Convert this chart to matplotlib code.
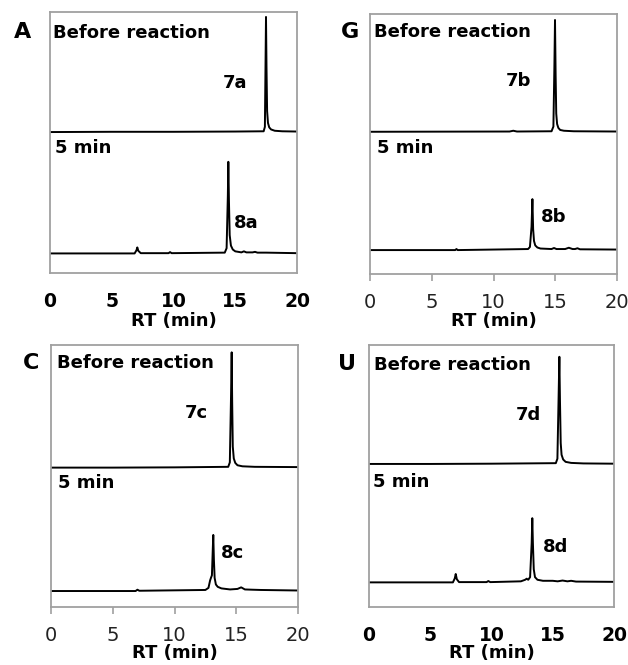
import matplotlib
matplotlib.use('Agg')
import matplotlib.pyplot as plt

# retention time ticks shared by all panels
rt_ticks = [0, 5, 10, 15, 20]

# panel A (7a -> 8a)
a_before_rt = [0, 5, 10, 15, 17.30, 17.40, 17.46, 17.49, 17.53, 17.58, 17.65, 17.75, 17.90, 18.20, 18.80, 20]
a_before_sig = [0, 0.001, 0.001, 0.002, 0.003, 0.02, 0.30, 0.441, 0.25, 0.08, 0.035, 0.018, 0.010, 0.005, 0.003, 0.002]
a_after_rt = [0, 6.85, 7.0, 7.07, 7.15, 7.35, 9.6, 9.72, 9.85, 14.15, 14.30, 14.40, 14.44, 14.49, 14.55, 14.65,
              14.80, 15.0, 15.5, 15.7, 15.9, 16.4, 16.6, 16.8, 17.5, 20]
a_after_sig = [0, 0.000, 0.012, 0.023, 0.010, 0.001, 0.001, 0.005, 0.001, 0.003, 0.02, 0.22, 0.351, 0.2, 0.07, 0.03,
               0.015, 0.008, 0.004, 0.008, 0.004, 0.004, 0.006, 0.003, 0.003, 0.001]

# panel G (7b -> 8b)
g_before_rt = [0, 11.3, 11.6, 11.9, 14.70, 14.85, 14.93, 14.98, 15.03, 15.08, 15.15, 15.25, 15.40, 15.70, 16.5, 20]
g_before_sig = [0, 0.001, 0.004, 0.001, 0.002, 0.02, 0.25, 0.430, 0.22, 0.07, 0.03, 0.015, 0.007, 0.004, 0.002, 0.001]
g_after_rt = [0, 6.9, 7.0, 7.1, 12.80, 12.95, 13.08, 13.15, 13.21, 13.28, 13.38, 13.55, 13.8, 14.7, 14.9, 15.1,
              15.8, 16.1, 16.4, 16.6, 16.8, 17.0, 20]
g_after_sig = [0, 0, 0.004, 0, 0.004, 0.012, 0.09, 0.196, 0.08, 0.035, 0.018, 0.010, 0.006, 0.004, 0.008, 0.004,
               0.004, 0.009, 0.004, 0.004, 0.007, 0.003, 0.002]

# panel C (7c -> 8c)
c_before_rt = [0, 5, 10, 14.35, 14.48, 14.58, 14.63, 14.67, 14.72, 14.80, 14.92, 15.10, 15.5, 16.5, 20]
c_before_sig = [0, 0.0, 0.001, 0.003, 0.02, 0.28, 0.440, 0.25, 0.08, 0.035, 0.018, 0.009, 0.005, 0.003, 0.002]
c_after_rt = [0, 6.85, 7.0, 7.15, 12.5, 12.75, 12.88, 12.95, 13.03, 13.10, 13.14, 13.19, 13.25, 13.35, 13.5, 13.8,
              14.5, 15.1, 15.4, 15.7, 16.3, 17.0, 20]
c_after_sig = [0, 0, 0.005, 0.001, 0.004, 0.012, 0.04, 0.05, 0.06, 0.16, 0.214, 0.12, 0.05, 0.025, 0.016, 0.010,
               0.006, 0.008, 0.014, 0.006, 0.005, 0.004, 0.002]

# panel U (7d -> 8d)
u_before_rt = [0, 5, 10, 15.25, 15.38, 15.48, 15.54, 15.59, 15.65, 15.72, 15.85, 16.05, 16.5, 17.5, 20]
u_before_sig = [0, 0, 0.001, 0.003, 0.02, 0.26, 0.409, 0.24, 0.08, 0.035, 0.017, 0.008, 0.004, 0.002, 0.001]
u_after_rt = [0, 6.85, 7.0, 7.08, 7.17, 7.35, 9.6, 9.74, 9.9, 12.4, 12.75, 12.87, 13.0, 13.15, 13.28, 13.33,
              13.38, 13.45, 13.55, 13.75, 14.2, 15.0, 15.4, 15.8, 16.2, 16.5, 16.9, 20]
u_after_sig = [0, 0, 0.015, 0.032, 0.012, 0.001, 0.001, 0.005, 0.001, 0.004, 0.010, 0.014, 0.010, 0.02, 0.15, 0.245,
               0.15, 0.05, 0.02, 0.01, 0.006, 0.006, 0.004, 0.007, 0.004, 0.006, 0.003, 0.002]

panel_letters = ['A', 'G', 'C', 'U']
sm_labels = ['7a', '7b', '7c', '7d']
prod_labels = ['8a', '8b', '8c', '8d']

# rect, baselines (upper, lower), bold ticks?, label positions
panels = [
	dict(rect=[50 / 628, 392 / 665, 247 / 628, 261 / 665], base=(0.540, 0.075), bold=True,
	     before=(a_before_rt, a_before_sig), after=(a_after_rt, a_after_sig),
	     letter=(-0.113, 0.923), title=(0.012, 0.920), five=(0.02, 0.479),
	     sm=(0.700, 0.728), prod=(0.745, 0.192), xl=-0.184),
	dict(rect=[370 / 628, 391 / 665, 247 / 628, 260 / 665], base=(0.547, 0.092), bold=False,
	     before=(g_before_rt, g_before_sig), after=(g_after_rt, g_after_sig),
	     letter=(-0.081, 0.931), title=(0.016, 0.931), five=(0.028, 0.485),
	     sm=(0.551, 0.742), prod=(0.692, 0.219), xl=-0.181),
	dict(rect=[51 / 628, 58 / 665, 247 / 628, 262 / 665], base=(0.532, 0.061), bold=False,
	     before=(c_before_rt, c_before_sig), after=(c_after_rt, c_after_sig),
	     letter=(-0.081, 0.931), title=(0.024, 0.931), five=(0.028, 0.473),
	     sm=(0.543, 0.740), prod=(0.688, 0.206), xl=-0.176),
	dict(rect=[369 / 628, 58 / 665, 245 / 628, 262 / 665], base=(0.546, 0.094), bold=True,
	     before=(u_before_rt, u_before_sig), after=(u_after_rt, u_after_sig),
	     letter=(-0.090, 0.928), title=(0.020, 0.924), five=(0.016, 0.477),
	     sm=(0.600, 0.733), prod=(0.710, 0.229), xl=-0.176),
]

fig = plt.figure(figsize=(6.28, 6.65), dpi=100)

for i, p in enumerate(panels):
	ax = fig.add_axes(p['rect'])
	up, low = p['base']
	ax.plot(p['before'][0], [s + up for s in p['before'][1]], color='black', lw=1.4)
	ax.plot(p['after'][0], [s + low for s in p['after'][1]], color='black', lw=1.4)
	ax.set_xlim(0, 20)
	ax.set_ylim(0, 1)
	ax.set_yticks([])
	ax.set_xticks(rt_ticks)
	for sp in ax.spines.values():
		sp.set_color('#a0a0a0')
		sp.set_linewidth(1.3)
	if p['bold']:
		ax.tick_params(axis='x', length=0, labelsize=13.5, pad=14)
		for lab in ax.get_xticklabels():
			lab.set_fontweight('bold')
	else:
		ax.tick_params(axis='x', length=5, width=1.2, color='#a0a0a0', labelsize=14, pad=9,
		               labelcolor='#222222')
	bold = dict(fontweight='bold', transform=ax.transAxes, va='center')
	ax.text(p['letter'][0], p['letter'][1], panel_letters[i], fontsize=16, ha='center', **bold)
	ax.text(p['title'][0], p['title'][1], 'Before reaction', fontsize=13, ha='left', **bold)
	ax.text(p['five'][0], p['five'][1], '5 min', fontsize=13, ha='left', **bold)
	ax.text(p['sm'][0], p['sm'][1], sm_labels[i], fontsize=13, ha='left', **bold)
	ax.text(p['prod'][0], p['prod'][1], prod_labels[i], fontsize=13, ha='left', **bold)
	ax.text(0.5, p['xl'], 'RT (min)', fontsize=13, ha='center', **bold)

fig.savefig('out.png', dpi=100)
